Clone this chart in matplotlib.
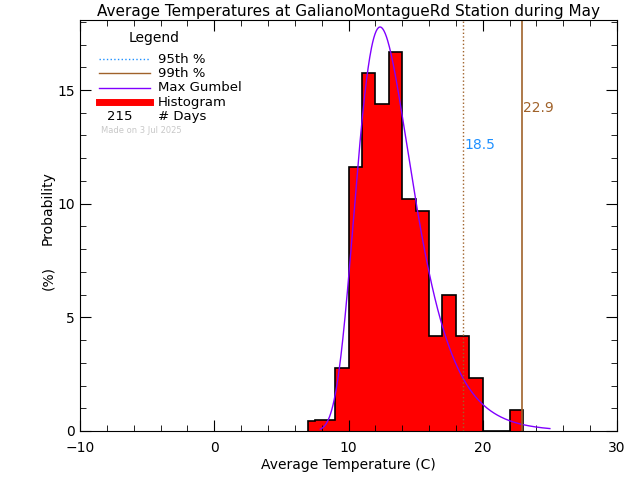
import numpy as np
import matplotlib
matplotlib.use("Agg")
import matplotlib.pyplot as plt
from matplotlib.ticker import MultipleLocator

# histogram bin edges and probabilities (%)
bin_edges = [7, 7.5, 9, 10, 11, 12, 13, 14, 15, 16, 17, 18, 19, 20, 21, 22, 23]
probs = [0.44, 0.47, 2.76, 11.6, 15.73, 14.37, 16.69, 10.19, 9.69, 4.18, 6.0, 4.18, 2.32, 0, 0, 0.92]

# Gumbel fit parameters
gumbel_mu = 12.35
gumbel_beta = 2.07
gumbel_range = (7.9, 25.0)

p95 = 18.5
p99 = 22.9
n_days = 215

fig = plt.figure(figsize=(6.4, 4.8), dpi=100)
ax = fig.add_axes([80 / 640, 49 / 480, 537 / 640, 411 / 480])

ax.stairs(probs, bin_edges, fill=True, color="red")
ax.stairs(probs, bin_edges, color="black", lw=1.2)

x = np.linspace(*gumbel_range, 400)
z = (x - gumbel_mu) / gumbel_beta
pdf = np.exp(-(z + np.exp(-z))) / gumbel_beta * 100
ax.plot(x, pdf, color="#8000ff", lw=1)

ax.axvline(p95, color="#a0622a", ls=":", lw=1)
ax.axvline(p99, color="#a0622a", lw=1.2)
ax.text(p95 + 0.1, 12.6, f"{p95}", color="#1e90ff", fontsize=10, va="center")
ax.text(p99 + 0.1, 14.2, f"{p99}", color="#a0622a", fontsize=10, va="center")

ax.set_xlim(-10, 30)
ax.set_ylim(0, 18.08)
ax.xaxis.set_major_locator(MultipleLocator(10))
ax.xaxis.set_minor_locator(MultipleLocator(2))
ax.yaxis.set_major_locator(MultipleLocator(5))
ax.yaxis.set_minor_locator(MultipleLocator(1))
ax.tick_params(which="both", direction="in", top=True, right=True, labelsize=10)
ax.tick_params(which="major", length=8)
ax.tick_params(which="minor", length=4)
ax.tick_params(axis="x", pad=7)

ax.set_xlabel("Average Temperature (C)", fontsize=10, labelpad=2)
fig.text(48 / 640, 1 - 208 / 480, "Probability", rotation=90, fontsize=10, ha="center", va="center")
fig.text(48 / 640, 1 - 278 / 480, "(%)", rotation=90, fontsize=10, ha="center", va="center")
ax.set_title("Average Temperatures at GalianoMontagueRd Station during May", fontsize=11, pad=3)

# legend block
lx0, lx1, tx = 0.035, 0.13, 0.145
ax.text(0.09, 0.955, "Legend", transform=ax.transAxes, fontsize=10, va="center")
rows = [0.905, 0.87, 0.835, 0.8]
ax.plot([lx0, lx1], [rows[0]] * 2, transform=ax.transAxes, color="#1e90ff", ls=":", lw=1)
ax.plot([lx0, lx1], [rows[1]] * 2, transform=ax.transAxes, color="#a0622a", lw=1)
ax.plot([lx0, lx1], [rows[2]] * 2, transform=ax.transAxes, color="#8000ff", lw=1)
ax.plot([lx0, lx1], [rows[3]] * 2, transform=ax.transAxes, color="red", lw=5)
for r, s in zip(rows, ["95th %", "99th %", "Max Gumbel", "Histogram"]):
    ax.text(tx, r, s, transform=ax.transAxes, fontsize=9.5, va="center")
ax.text(0.05, 0.765, f"{n_days}", transform=ax.transAxes, fontsize=9.5, va="center")
ax.text(tx, 0.765, "# Days", transform=ax.transAxes, fontsize=9.5, va="center")
ax.text(0.04, 0.73, "Made on 3 Jul 2025", transform=ax.transAxes, fontsize=6, color="#c8c8c8", va="center")

fig.savefig("out.png", dpi=100)
